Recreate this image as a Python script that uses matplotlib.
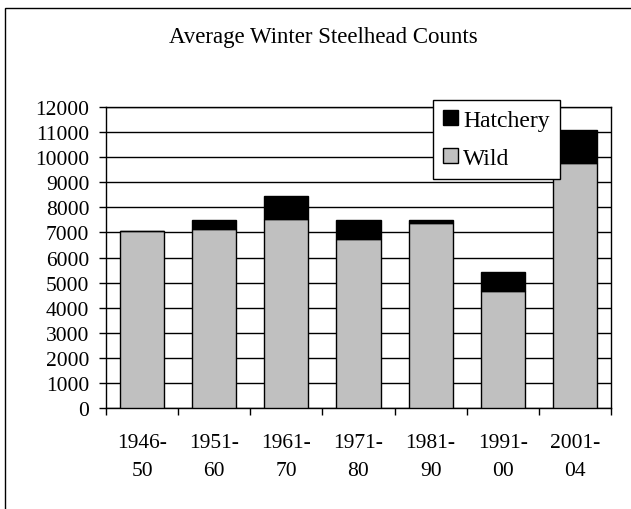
import matplotlib
matplotlib.use("Agg")
import matplotlib.pyplot as plt
from matplotlib.patches import Rectangle
import numpy as np

plt.rcParams['font.family'] = ['Liberation Serif', 'DejaVu Serif']

periods = ["1946-\n50", "1951-\n60", "1961-\n70", "1971-\n80", "1981-\n90", "1991-\n00", "2001-\n04"]
wild = [7060, 7150, 7540, 6750, 7390, 4670, 9780]
hatchery = [0, 330, 910, 740, 100, 750, 1300]
yticks = list(range(0, 12001, 1000))

W, H = 631, 510
fig = plt.figure(figsize=(W / 100, H / 100), dpi=100)

# outer chart frame (left and top edges visible)
fig.patches.append(Rectangle((5 / W, -0.1), 1.2, 1 - 9 / H + 0.1, transform=fig.transFigure,
                             fill=False, edgecolor='black', linewidth=1.0, zorder=0))

ax = fig.add_axes([106 / W, 1 - 409 / H, (611 - 106) / W, (409 - 108) / H])
x = np.arange(len(periods))
bw = 0.61
ax.bar(x, wild, bw, color='#c0c0c0', edgecolor='black', linewidth=1.0, label='Wild', zorder=3)
ax.bar(x, hatchery, bw, bottom=wild, color='black', edgecolor='black', linewidth=1.0,
       label='Hatchery', zorder=3)

ax.set_xlim(-0.5, len(periods) - 0.5)
ax.set_ylim(0, 12000)
ax.set_yticks(yticks)
ax.set_yticklabels([str(v) for v in yticks], fontsize=15.5)
ax.yaxis.grid(True, color='black', linewidth=1.0, zorder=1)
ax.set_axisbelow(True)

# category labels centred on bars, tick marks at category boundaries
ax.set_xticks(x)
ax.set_xticklabels(periods, fontsize=15.5, linespacing=1.65)
ax.tick_params(axis='x', length=0, pad=18)
ax.set_xticks(np.arange(-0.5, len(periods)), minor=True)
ax.tick_params(axis='x', which='minor', length=5, width=1.0, direction='out')
ax.tick_params(axis='y', length=5, width=1.0, direction='out', pad=7)

for s in ax.spines.values():
    s.set_linewidth(1.0)
    s.set_color('black')

handles, labels = ax.get_legend_handles_labels()
leg = ax.legend(handles[::-1], labels[::-1], loc='upper left',
                bbox_to_anchor=((433 - 106) / (611 - 106), 1 + (108 - 101) / (409 - 108)),
                fontsize=17, frameon=True, fancybox=False, shadow=False,
                edgecolor='black', framealpha=1, handlelength=0.62, handleheight=0.58,
                handletextpad=0.24, labelspacing=0.72, borderpad=0.42, borderaxespad=0)
leg.get_frame().set_linewidth(1.0)
leg.set_zorder(5)

fig.text(323 / W, 1 - 37 / H, "Average Winter Steelhead Counts", ha='center', va='center', fontsize=16.5)

fig.savefig("out.png", dpi=100)
